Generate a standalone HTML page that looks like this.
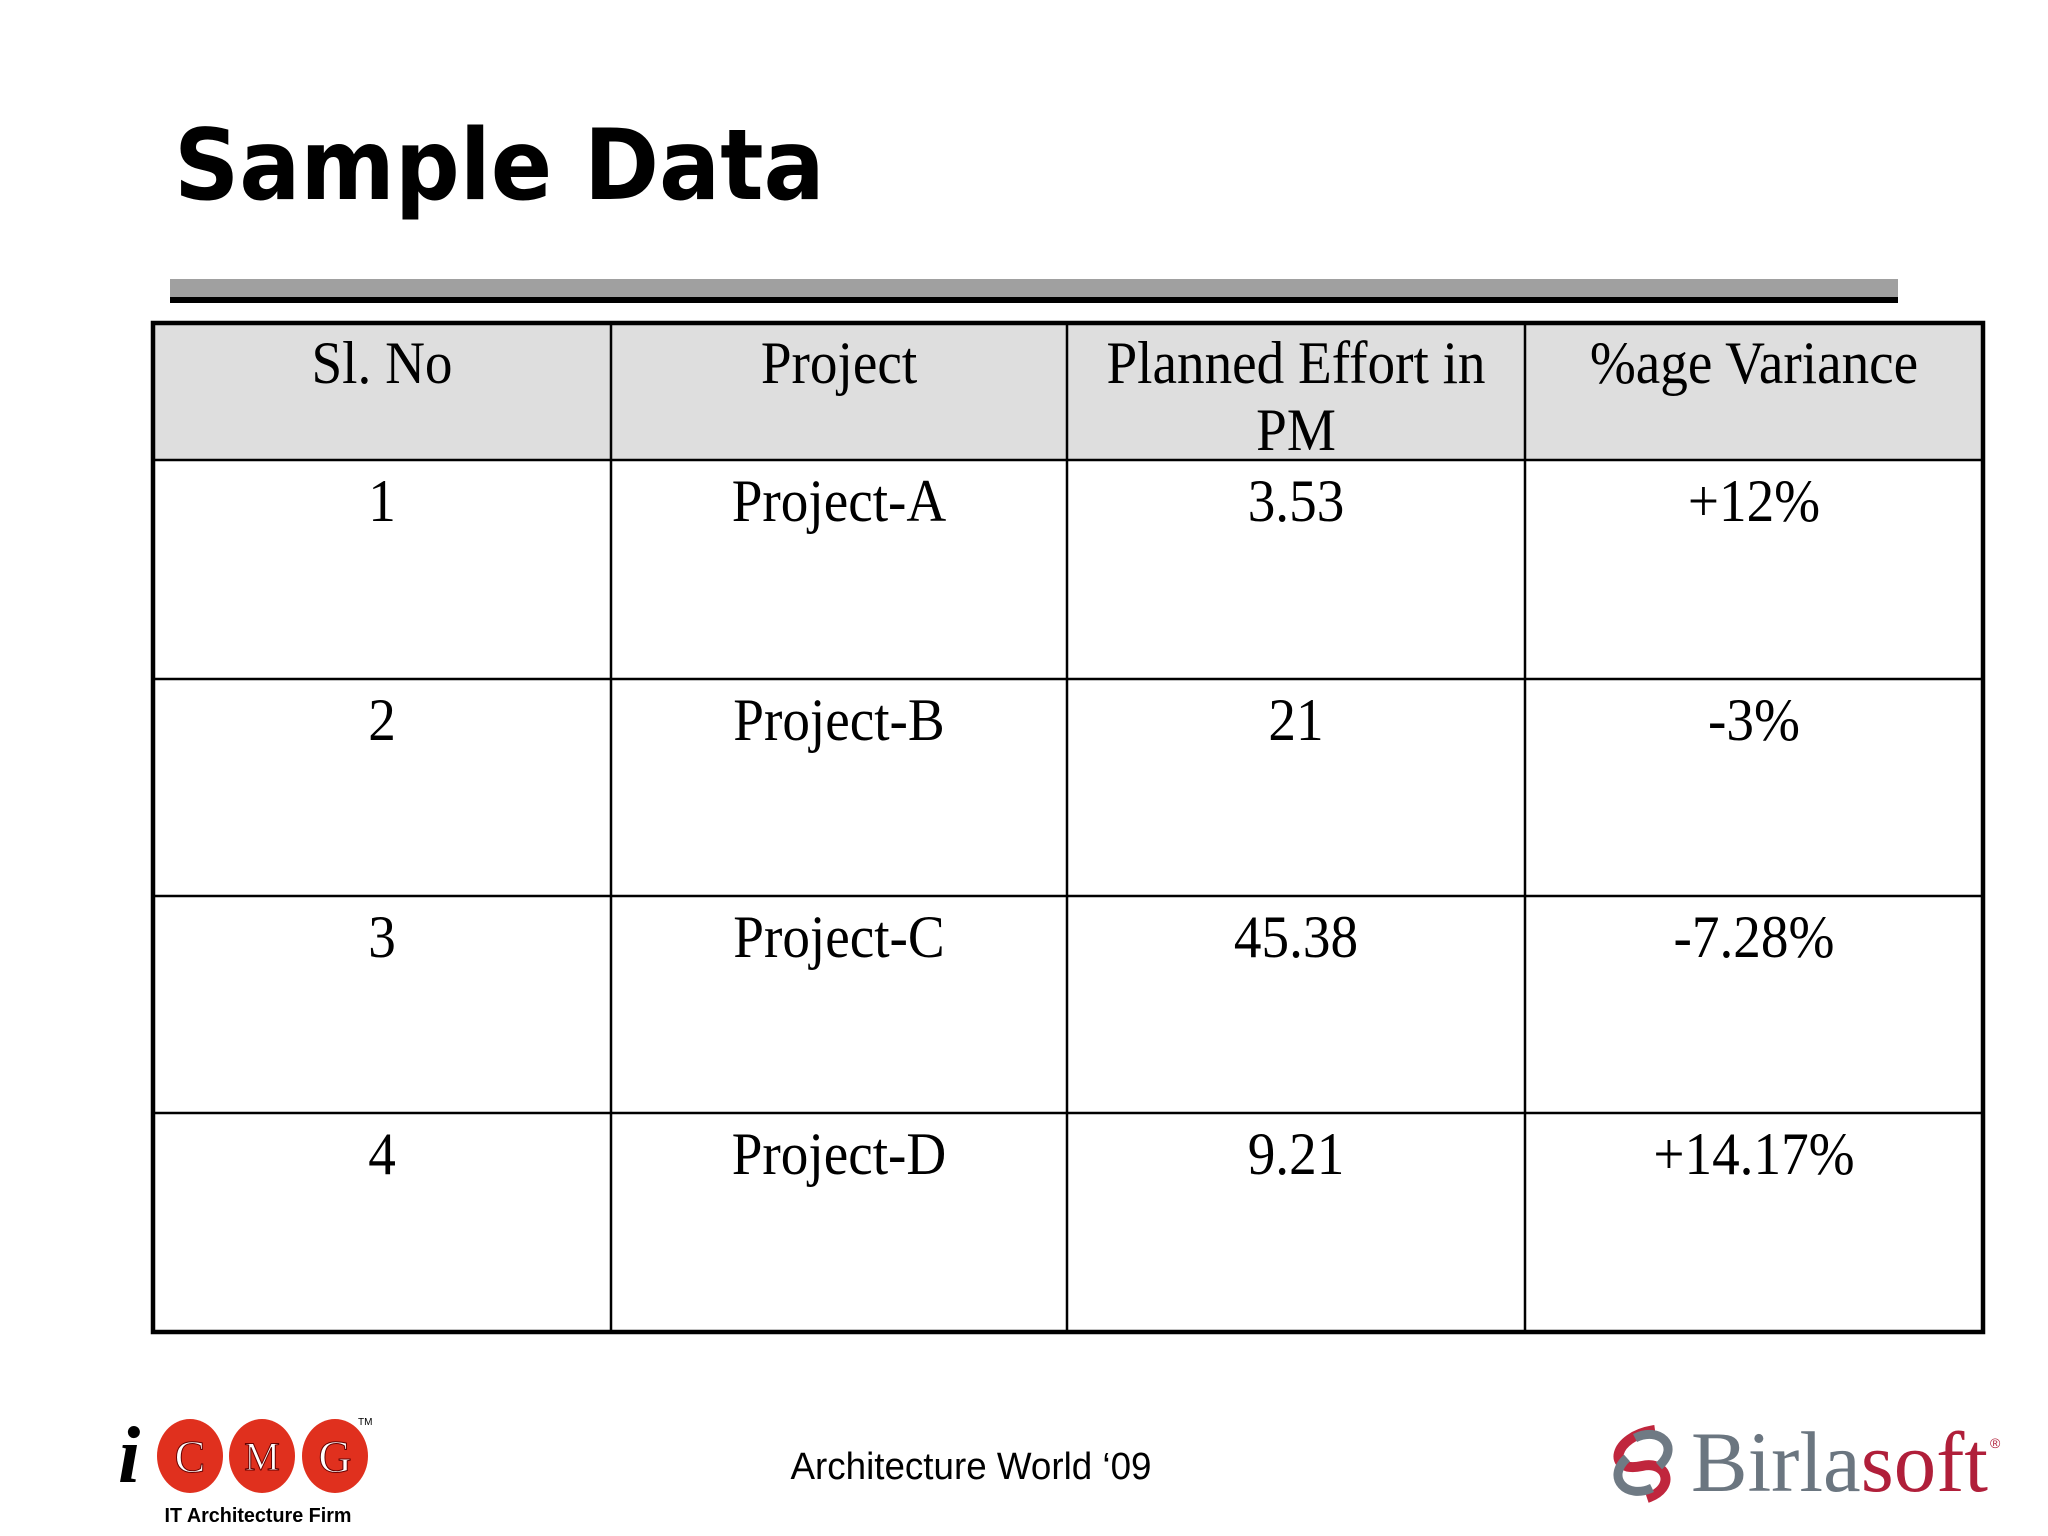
<!DOCTYPE html>
<html><head><meta charset="utf-8"><style>
html,body{margin:0;padding:0;background:#fff;}
svg{display:block;}
</style></head><body>
<svg id="slide" xmlns="http://www.w3.org/2000/svg" width="2048" height="1536" viewBox="0 0 2048 1536">
<rect width="2048" height="1536" fill="#fff"/>
<g transform="translate(174,199) scale(0.925,1)">
<text x="0" y="0" font-family="'DejaVu Sans', 'Liberation Sans', sans-serif" font-weight="bold" font-size="98" fill="#000">Sample Data</text>
</g>
<rect x="170" y="279" width="1728" height="18" fill="#a0a0a0"/>
<rect x="170" y="297" width="1728" height="6" fill="#000"/>
<g id="table"></g>

<g>
<text x="118" y="1482" font-family="'Liberation Serif', serif" font-style="italic" font-weight="bold" font-size="80" fill="#000">i</text>
<ellipse cx="190" cy="1456" rx="33" ry="37" fill="#e0301e"/>
<ellipse cx="262" cy="1456" rx="33" ry="37" fill="#e0301e"/>
<ellipse cx="335" cy="1456" rx="33" ry="37" fill="#e0301e"/>
<text x="190" y="1472" text-anchor="middle" font-family="'Liberation Serif', serif" font-size="46" fill="#fff" stroke="#600" stroke-width="1">C</text>
<text x="262" y="1470" text-anchor="middle" font-family="'Liberation Serif', serif" font-size="40" fill="#fff" stroke="#600" stroke-width="1">M</text>
<text x="335" y="1472" text-anchor="middle" font-family="'Liberation Serif', serif" font-size="46" fill="#fff" stroke="#600" stroke-width="1">G</text>
<text x="358" y="1425" font-family="'Liberation Sans', sans-serif" font-size="10" fill="#000">TM</text>
<text x="258" y="1522" text-anchor="middle" textLength="187" lengthAdjust="spacingAndGlyphs" font-family="'Liberation Sans', sans-serif" font-weight="bold" font-size="20" fill="#000">IT Architecture Firm</text>
</g>
<text x="971" y="1479" text-anchor="middle" textLength="361" lengthAdjust="spacingAndGlyphs" font-family="'Liberation Sans', sans-serif" font-size="38" fill="#000">Architecture World ‘09</text>
<g>
<path d="M1655 1430 C1612 1436 1606 1474 1642 1466 C1667 1460 1677 1488 1647 1498" fill="none" stroke="#c0263d" stroke-width="10"/>
<path d="M1627 1458 C1605 1478 1627 1500 1652 1488" fill="none" stroke="#6f7a84" stroke-width="9"/>
<path d="M1659 1466 C1681 1446 1659 1426 1635 1438" fill="none" stroke="#6f7a84" stroke-width="9"/>
<text x="1691" y="1491" textLength="297" lengthAdjust="spacingAndGlyphs" font-family="'Liberation Serif', serif" font-size="86"><tspan fill="#6b7680">Birla</tspan><tspan fill="#b01f3a">soft</tspan></text>
<text x="1990" y="1448" font-family="'Liberation Sans', sans-serif" font-size="14" fill="#b01f3a">®</text>
</g>
</svg>
<script>
const headers = ["Sl. No", "Project", "Planned Effort in|PM", "%age Variance"];
const slNos = ["1", "2", "3", "4"];
const projects = ["Project-A", "Project-B", "Project-C", "Project-D"];
const plannedEffort = ["3.53", "21", "45.38", "9.21"];
const variance = ["+12%", "-3%", "-7.28%", "+14.17%"];

const NS = "http://www.w3.org/2000/svg";
const tbl = document.getElementById("table");
const colX = [153, 611, 1067, 1525, 1983];
const rowY = [323, 460, 679, 896, 1113, 1332];
function mk(tag, attrs) { const e = document.createElementNS(NS, tag); for (const k in attrs) e.setAttribute(k, attrs[k]); tbl.appendChild(e); return e; }
const hdr = mk("rect", {x: colX[0], y: rowY[0], width: colX[4]-colX[0], height: rowY[1]-rowY[0], fill: "#dedede"});


for (let i = 1; i < 4; i++) {
  const l = mk("line", {x1: colX[i], x2: colX[i], y1: rowY[0], y2: rowY[5], stroke: "#000", "stroke-width": 2.5});
  
  
}
for (let j = 1; j < 5; j++) {
  const l = mk("line", {x1: colX[0], x2: colX[4], y1: rowY[j], y2: rowY[j], stroke: "#000", "stroke-width": 2.5});
  
  
}
const border = mk("rect", {x: colX[0], y: rowY[0], width: colX[4]-colX[0], height: rowY[5]-rowY[0], fill: "none", stroke: "#000", "stroke-width": 4.5});


function cellText(str, col, baseline, name) {
  const cx = (colX[col] + colX[col+1]) / 2;
  const g = mk("g", {transform: "translate(" + cx + "," + baseline + ") scale(0.92,1)"});
  const t = document.createElementNS(NS, "text");
  t.setAttribute("text-anchor", "middle");
  t.setAttribute("font-family", "'Liberation Serif', serif");
  t.setAttribute("font-size", "60");
  t.setAttribute("fill", "#000");
  t.textContent = str;
  g.appendChild(t);
  
  
}
headers.forEach((h, c) => {
  h.split("|").forEach((line, k) => cellText(line, c, 383 + k * 67, "header-cell"));
});
const cols = [slNos, projects, plannedEffort, variance];
for (let r = 0; r < slNos.length; r++) {
  const base = rowY[r+1] + 61;
  cols.forEach((arr, c) => cellText(arr[r], c, base, "table-cell"));
}
</script>
</body></html>
